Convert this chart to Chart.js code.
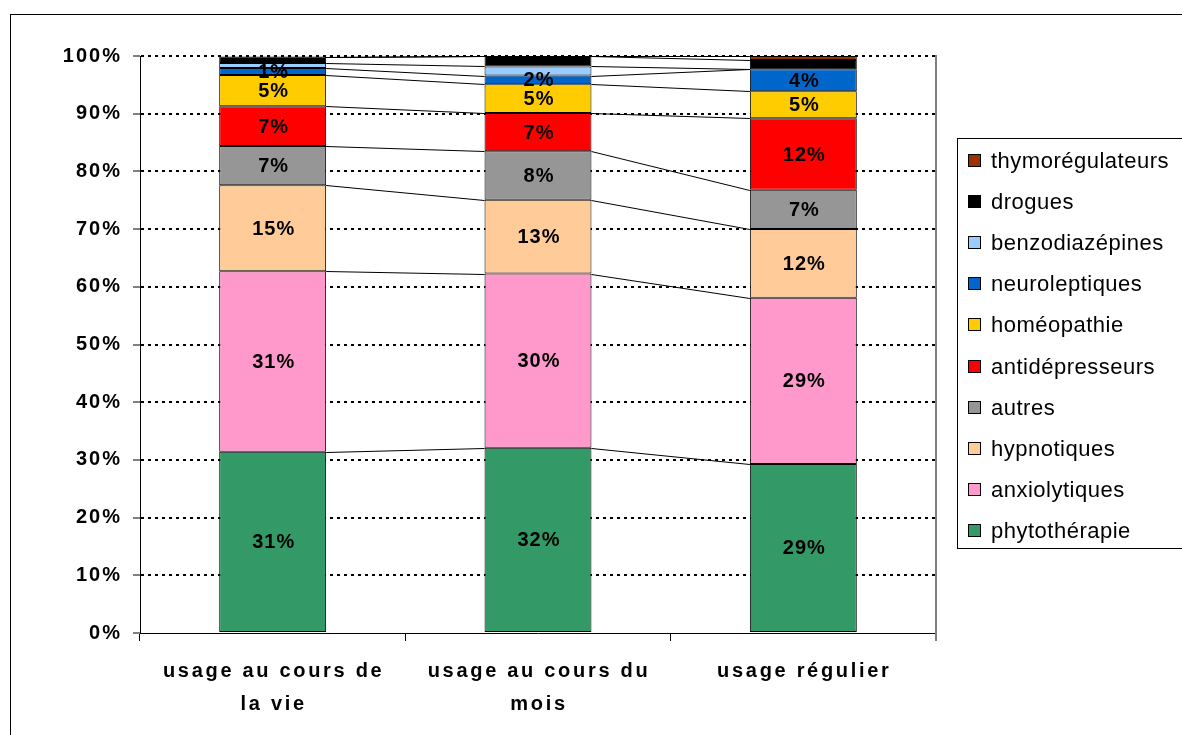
<!DOCTYPE html>
<html lang="fr">
<head>
<meta charset="utf-8">
<title>Usage des psychotropes</title>
<script src="https://cdn.jsdelivr.net/npm/chart.js@4.4.1/dist/chart.umd.min.js"></script>
<style>
  html, body { margin: 0; padding: 0; background: #fff; overflow: hidden; }
  #wrap { position: relative; width: 1182px; height: 735px; overflow: hidden; }
  #frame {
    position: absolute; left: 10px; top: 14px; width: 1400px; height: 900px;
    border-left: 1px solid #000; border-top: 1px solid #000;
  }
  #chart { position: absolute; left: 0; top: 0; }
  #legend {
    position: absolute; left: 957px; top: 138px; width: 260px; height: 411px;
    border: 1px solid #000; box-sizing: border-box;
    font-family: "Liberation Sans", Arial, sans-serif; font-size: 22px; letter-spacing: 0.5px;
  }
  #legend .item { position: absolute; left: 10px; height: 24px; line-height: 24px; white-space: nowrap; color: #000; }
  #legend .sw {
    display: inline-block; width: 11px; height: 11px; border: 1px solid #000;
    margin-right: 10px; vertical-align: 1px;
  }
</style>
</head>
<body>
<div id="wrap">
  <div id="frame"></div>
  <canvas id="chart" width="1182" height="735"></canvas>
  <div id="legend"></div>
</div>
<script>
// ── Data (in %) ─────────────────────────────────────────────────
const CATEGORIES = [
  ['usage au cours de', 'la vie'],
  ['usage au cours du', 'mois'],
  ['usage régulier']
];

const SERIES = ['phytothérapie', 'anxiolytiques', 'hypnotiques', 'autres', 'antidépresseurs',
                'homéopathie', 'neuroleptiques', 'benzodiazépines', 'drogues', 'thymorégulateurs'];

const phytotherapie    = [31.4, 32.1, 29.3];
const anxiolytiques    = [31.3, 30.2, 28.8];
const hypnotiques      = [14.9, 12.8, 11.9];
const autres           = [6.8,  8.4,  6.8];
const antidepresseurs  = [6.9,  6.6,  12.4];
const homeopathie      = [5.4,  5.0,  4.7];
const neuroleptiques   = [1.2,  1.5,  3.8];
const benzodiazepines  = [0.9,  1.6,  0];
const drogues          = [1.1,  1.8,  1.6];
const thymoregulateurs = [0,    0,    0.7];

const VALUES = [phytotherapie, anxiolytiques, hypnotiques, autres, antidepresseurs,
                homeopathie, neuroleptiques, benzodiazepines, drogues, thymoregulateurs];

const COLORS = ['#339966', '#FF99CC', '#FFCC99', '#969696', '#FF0000',
                '#FFCC00', '#0066CC', '#99CCFF', '#000000', '#993300'];

// series whose segment labels Excel did not show
const NO_LABEL = ['benzodiazépines', 'drogues', 'thymorégulateurs'];

const Y_TICKS = [0, 10, 20, 30, 40, 50, 60, 70, 80, 90, 100];

const FONT = '"Liberation Sans", Arial, sans-serif';

// ── Plugins ─────────────────────────────────────────────────────
const textSpacing = {
  id: 'textSpacing',
  beforeDraw: function (chart) { chart.ctx.letterSpacing = '2px'; }
};

const plotBorder = {
  id: 'plotBorder',
  beforeDatasetsDraw: function (chart) {
    const a = chart.chartArea, ctx = chart.ctx;
    ctx.save();
    ctx.strokeStyle = '#808080';
    ctx.lineWidth = 2;
    ctx.beginPath();
    ctx.moveTo(a.right, a.top - 1);
    ctx.lineTo(a.right, a.bottom + 8);
    ctx.stroke();
    ctx.restore();
  }
};

// lines joining the tops of the stacked segments between bars
const seriesLines = {
  id: 'seriesLines',
  afterDatasetsDraw: function (chart) {
    const ctx = chart.ctx, y = chart.scales.y;
    const meta0 = chart.getDatasetMeta(0);
    ctx.save();
    ctx.strokeStyle = '#000';
    ctx.lineWidth = 1;
    let cum = CATEGORIES.map(function () { return 0; });
    VALUES.forEach(function (vals) {
      cum = cum.map(function (c, i) { return c + vals[i]; });
      for (let i = 0; i < CATEGORIES.length - 1; i++) {
        const a = meta0.data[i], b = meta0.data[i + 1];
        ctx.beginPath();
        ctx.moveTo(a.x + a.width / 2, Math.round(y.getPixelForValue(cum[i])) + 0.5);
        ctx.lineTo(b.x - b.width / 2, Math.round(y.getPixelForValue(cum[i + 1])) + 0.5);
        ctx.stroke();
      }
    });
    ctx.restore();
  }
};

const segmentLabels = {
  id: 'segmentLabels',
  afterDatasetsDraw: function (chart) {
    const ctx = chart.ctx;
    ctx.save();
    ctx.font = 'bold 20px ' + FONT;
    ctx.letterSpacing = '1px';
    ctx.fillStyle = '#000';
    ctx.textAlign = 'center';
    ctx.textBaseline = 'middle';
    chart.data.datasets.forEach(function (ds, d) {
      if (NO_LABEL.indexOf(ds.label) >= 0) return;
      chart.getDatasetMeta(d).data.forEach(function (el, i) {
        const v = ds.data[i];
        if (!v) return;
        ctx.fillText(Math.round(v) + '%', el.x + 1, (el.y + el.base) / 2 + 1);
      });
    });
    ctx.restore();
  }
};

const categoryLabels = {
  id: 'categoryLabels',
  afterDraw: function (chart) {
    const ctx = chart.ctx, x = chart.scales.x;
    ctx.save();
    ctx.font = 'bold 20px ' + FONT;
    ctx.letterSpacing = '2.7px';
    ctx.fillStyle = '#000';
    ctx.textAlign = 'center';
    ctx.textBaseline = 'middle';
    CATEGORIES.forEach(function (lines, i) {
      const cx = x.getPixelForValue(i);
      lines.forEach(function (t, k) {
        ctx.fillText(t, cx + 1, 671 + k * 33);
      });
    });
    ctx.restore();
  }
};

// ── Chart ───────────────────────────────────────────────────────
new Chart(document.getElementById('chart'), {
  type: 'bar',
  data: {
    labels: CATEGORIES.map(function (c) { return c.join(' '); }),
    datasets: SERIES.map(function (name, d) {
      return {
        label: name,
        data: VALUES[d],
        backgroundColor: COLORS[d],
        borderColor: '#000',
        borderWidth: 1,
        borderSkipped: false,
        barPercentage: 0.403,
        categoryPercentage: 1
      };
    })
  },
  options: {
    responsive: false,
    devicePixelRatio: 1,
    animation: false,
    layout: { padding: { left: 10, top: 56, right: 246, bottom: 0 } },
    plugins: {
      legend: { display: false },
      tooltip: { enabled: false }
    },
    scales: {
      x: {
        stacked: true,
        grid: { display: true, drawOnChartArea: false, drawTicks: true, tickLength: 8, color: '#000', lineWidth: 1 },
        border: { display: true, color: '#000', width: 1 },
        ticks: { color: 'rgba(0,0,0,0)' },
        afterFit: function (scale) { scale.height = 102; }
      },
      y: {
        stacked: true,
        min: 0,
        max: 100,
        afterBuildTicks: function (scale) {
          scale.ticks = Y_TICKS.map(function (v) { return { value: v }; });
        },
        ticks: {
          color: '#000',
          padding: 11,
          font: { family: FONT, size: 20, weight: 'bold' },
          callback: function (v) { return v + '%'; }
        },
        grid: {
          color: function (c) { return c.tick && c.tick.value === 0 ? 'rgba(0,0,0,0)' : '#000'; },
          lineWidth: 2, drawTicks: true, tickLength: 7,
          tickColor: '#000', tickWidth: 1
        },
        border: { display: true, color: '#000', width: 1, dash: [3, 4] },
        afterFit: function (scale) { scale.width = 130; }
      }
    }
  },
  plugins: [textSpacing, plotBorder, seriesLines, segmentLabels, categoryLabels]
});

// ── Legend (top to bottom = reverse stacking order) ─────────────
var legend = document.getElementById('legend');
SERIES.slice().reverse().forEach(function (name, k) {
  var d = SERIES.length - 1 - k;
  var item = document.createElement('div');
  item.className = 'item';
  item.style.top = (10 + k * 41.1) + 'px';
  item.innerHTML = '<span class="sw" style="background:' + COLORS[d] + '"></span>' + name;
  legend.appendChild(item);
});
</script>
</body>
</html>
